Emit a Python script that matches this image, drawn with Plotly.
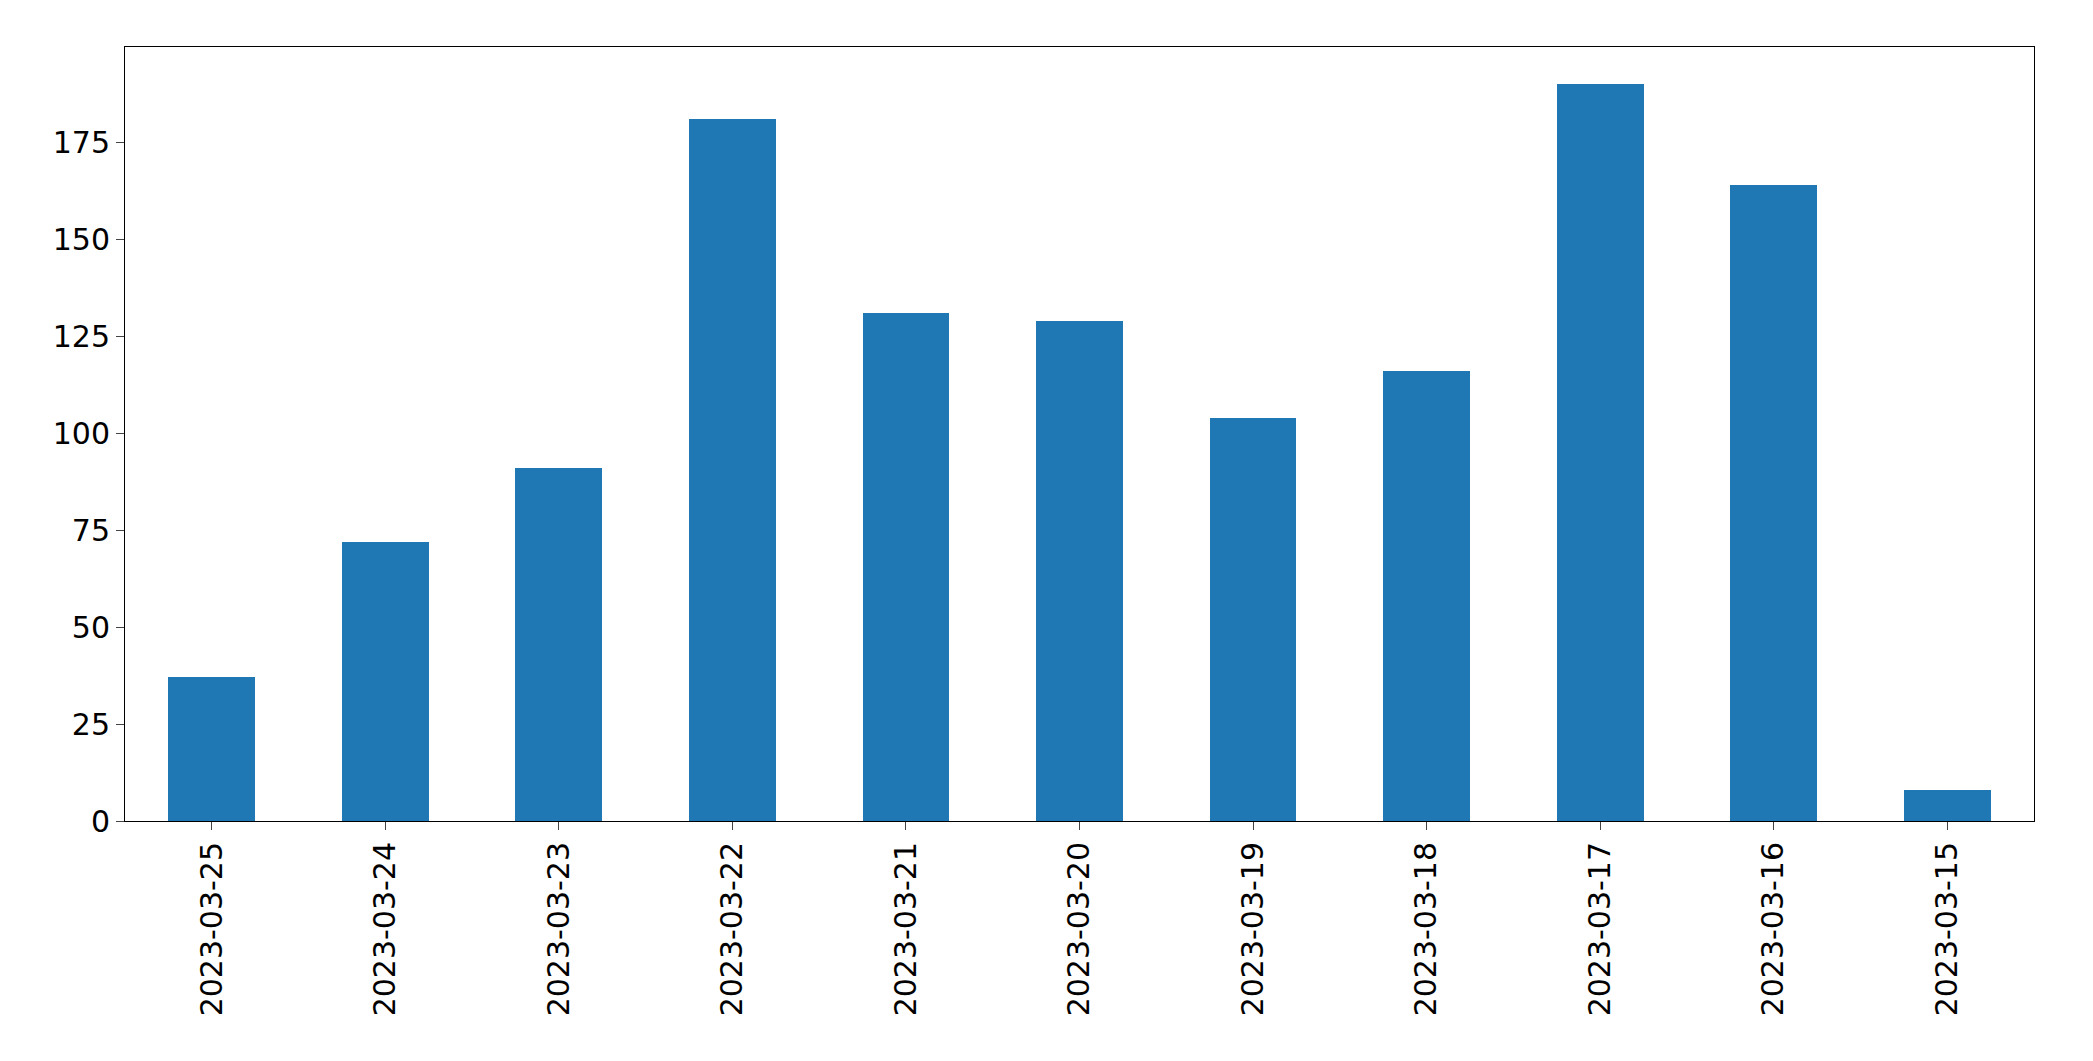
import plotly.graph_objects as go

dates = ["2023-03-25","2023-03-24","2023-03-23","2023-03-22","2023-03-21","2023-03-20",
         "2023-03-19","2023-03-18","2023-03-17","2023-03-16","2023-03-15"]
counts = [37, 72, 91, 181, 131, 129, 104, 116, 190, 164, 8]

fig = go.Figure(go.Bar(x=list(range(len(dates))), y=counts, width=0.5,
                       marker=dict(color="#1f77b4", line=dict(width=0))))
fig.update_layout(
    width=2093, height=1061, plot_bgcolor="white", paper_bgcolor="white",
    margin=dict(l=117, r=67, t=39, b=248, autoexpand=False),
    font=dict(family="DejaVu Sans", size=30, color="black"),
    showlegend=False, bargap=0,
)
fig.update_xaxes(range=[-0.5, 10.5], tickvals=list(range(len(dates))), ticktext=dates,
                 tickangle=-90, ticks="outside", ticklen=8, showgrid=False, zeroline=False,
                 showline=True, linecolor="black", mirror=True)
fig.update_yaxes(range=[0, 199.5], tickvals=[0,25,50,75,100,125,150,175],
                 ticks="outside", ticklen=8, showgrid=False, zeroline=False,
                 showline=True, linecolor="black", mirror=True)
fig.write_html("out.html")
